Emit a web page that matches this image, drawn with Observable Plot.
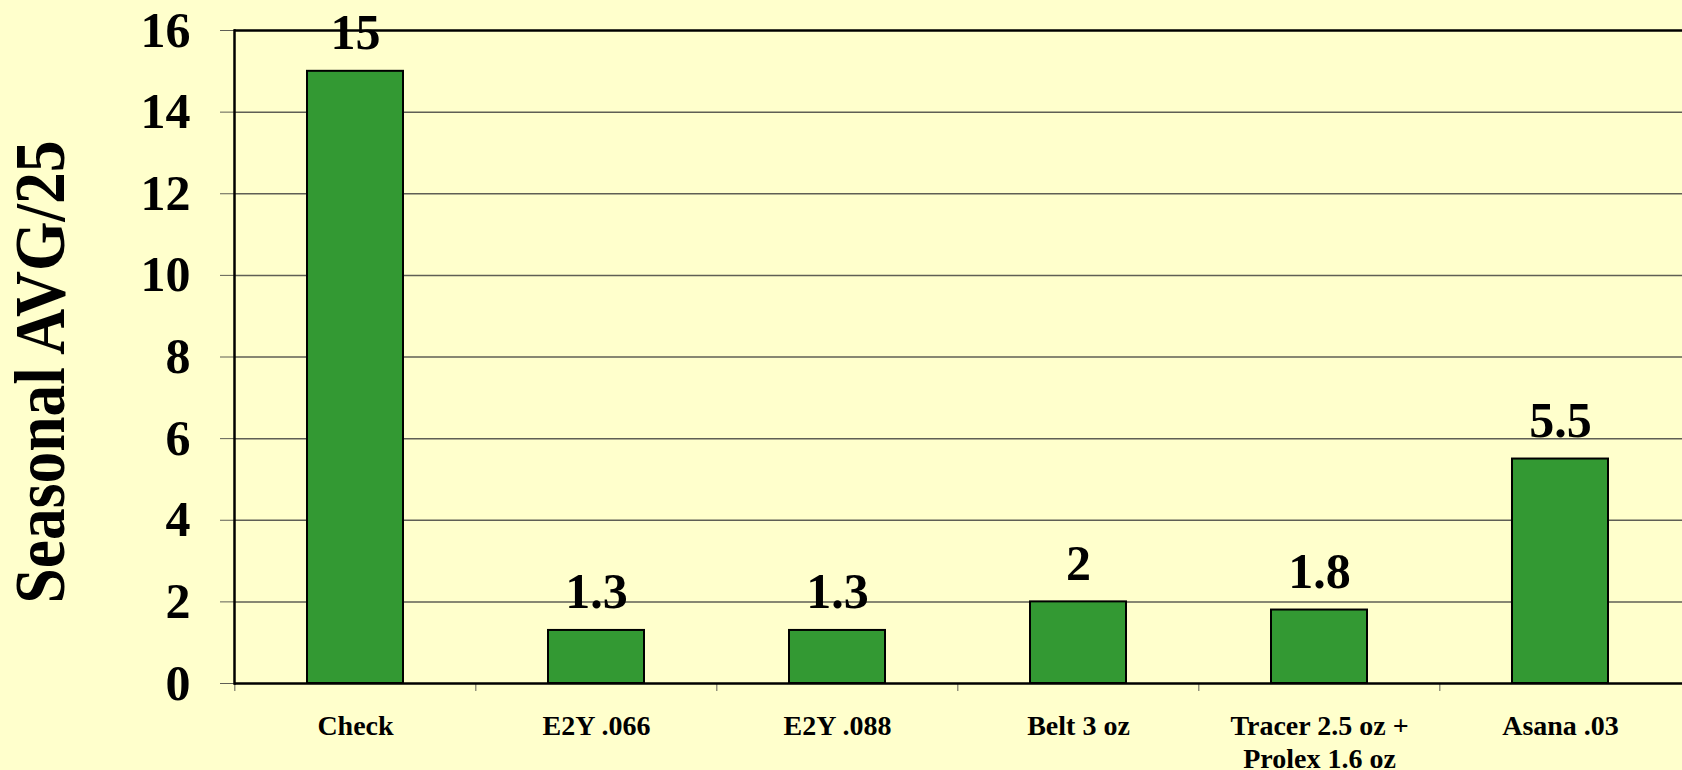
<!DOCTYPE html>
<html><head><meta charset="utf-8">
<script src="https://cdn.jsdelivr.net/npm/d3@7"></script>
<script src="https://cdn.jsdelivr.net/npm/@observablehq/plot@0.6"></script>
<style>
html,body{margin:0;padding:0;background:#FFFFCC;overflow:hidden}
</style></head><body><div id="chart"></div>
<script>
const categories = ["Check", "E2Y .066", "E2Y .088", "Belt 3 oz", "Tracer 2.5 oz +\nProlex 1.6 oz", "Asana .03"];
const values = [15, 1.3, 1.3, 2, 1.8, 5.5];
const valueLabels = ["15", "1.3", "1.3", "2", "1.8", "5.5"];
const yTicks = [0, 2, 4, 6, 8, 10, 12, 14, 16];
const yTitle = "Seasonal AVG/25";

const data = categories.map((c, i) => ({category: c, value: values[i], label: valueLabels[i]}));
const W = 1682, H = 770, mL = 234, mR = 0, mT = 30, mB = 87;
const step = (W - mL - mR) / categories.length;
const font = '"Liberation Serif","Times New Roman",serif';

const chart = Plot.plot({
  width: W, height: H, marginLeft: mL, marginRight: mR, marginTop: mT, marginBottom: mB,
  style: {background: "#FFFFCC", fontFamily: font, fontWeight: "bold", color: "#000", overflow: "visible"},
  x: {domain: categories, paddingInner: 0.6, paddingOuter: 0.3, label: null},
  y: {domain: [0, 16], label: null},
  marks: [
    Plot.ruleY(yTicks.filter(d => d > 0 && d < 16), {stroke: "#5f5f55", strokeWidth: 1.5}),
    Plot.axisY({ticks: yTicks, tickSize: 14, tickPadding: 30, fontSize: 50, stroke: "#5f5f55", label: null}),
    Plot.axisX({tickSize: 8, dx: -step / 2, tickFormat: () => "", stroke: "#5f5f55", label: null}),
    Plot.axisX({tickSize: 0, tickPadding: 29, fontSize: 28, lineHeight: 1.15, label: null}),
    Plot.barY(data, {x: "category", y: "value", fill: "#339933", stroke: "#000", strokeWidth: 2}),
    Plot.ruleY([0, 16], {stroke: "#000", strokeWidth: 2.5}),
    Plot.frame({anchor: "left", stroke: "#000", strokeWidth: 2.5}),
    Plot.text(data, {x: "category", y: "value", text: "label", dy: -22, lineAnchor: "bottom", fontSize: 50}),
    Plot.text([yTitle], {frameAnchor: "left", rotate: -90, dx: 63 - mL, dy: 603 - (mT + (H - mB)) / 2, textAnchor: "start", lineAnchor: "bottom", fontSize: 72, className: "ytitle"})
  ]
});
document.getElementById("chart").appendChild(chart);
chart.querySelectorAll(".ytitle text").forEach(t => {
  t.setAttribute("textLength", 463);
  t.setAttribute("lengthAdjust", "spacingAndGlyphs");
});
</script></body></html>
